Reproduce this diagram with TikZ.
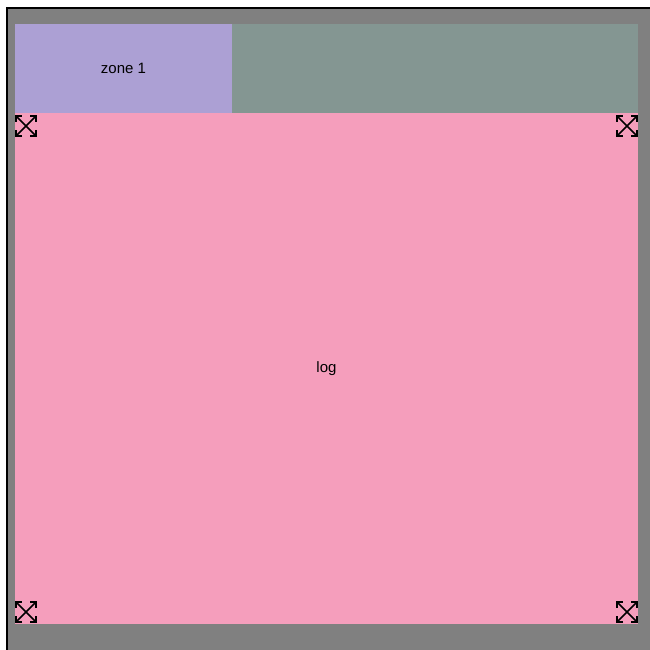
\documentclass[tikz,border=0pt]{standalone}
\usepackage{fontspec}
\setmainfont{Liberation Sans}
\usetikzlibrary{positioning}
\definecolor{framegray}{RGB}{128,128,128}
\definecolor{zonepurple}{RGB}{172,160,212}
\definecolor{slategreen}{RGB}{132,150,146}
\definecolor{logpink}{RGB}{245,158,188}
\tikzset{
  panel/.style={draw=none,inner sep=0pt,outer sep=0pt,anchor=north west,font=\fontsize{15}{17}\selectfont},
  grip/.style={draw=black,line width=1.6pt},
  pics/resizemark/.style={code={
    \draw[grip] (0,0) -- (20,20) (20,0) -- (0,20);
    \draw[grip] (0,6) -- (0,0) -- (6,0) (14,0) -- (20,0) -- (20,6)
                (20,14) -- (20,20) -- (14,20) (6,20) -- (0,20) -- (0,14);
  }}
}
\begin{document}
\begin{tikzpicture}[x=1pt,y=-1pt]
  \useasboundingbox (0,0) rectangle (650,650);
  \fill[white] (0,0) rectangle (650,650);
  \fill[framegray] (7,8) rectangle (650,650);
  \draw[black,line width=1.5pt] (7,650) -- (7,8) -- (650,8);
  % top row
  \node[panel,fill=zonepurple,minimum width=217pt,minimum height=89pt] (zone) at (15,24) {zone 1};
  \node[panel,fill=slategreen,minimum width=406pt,minimum height=89pt,right=0pt of zone] (rest) {};
  % log area
  \node[panel,fill=logpink,minimum width=623pt,minimum height=511pt,below=0pt of zone.south west,anchor=north west] (log) {log};
  % resize grips
  \pic at (16,116) {resizemark};
  \pic at (617,116) {resizemark};
  \pic at (16,602) {resizemark};
  \pic at (617,602) {resizemark};
\end{tikzpicture}
\end{document}
